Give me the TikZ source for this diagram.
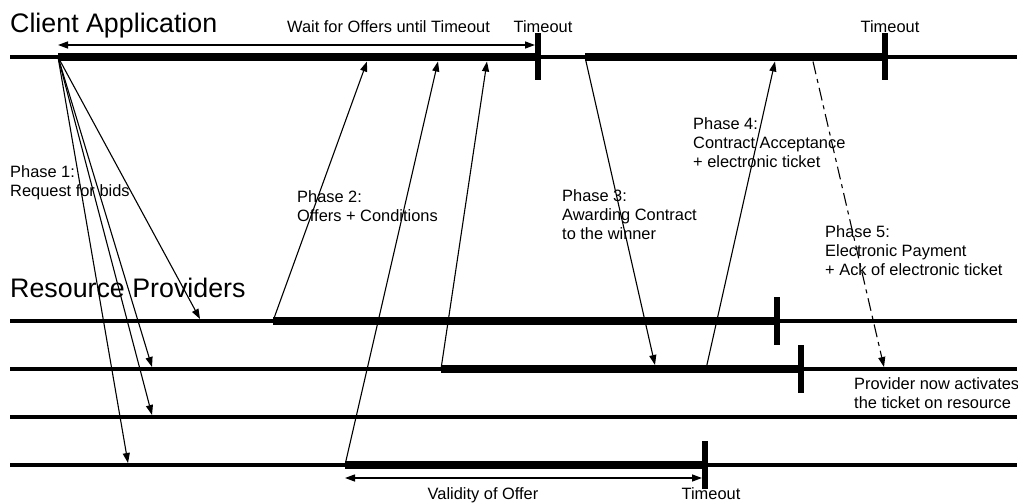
\documentclass[tikz,border=0pt]{standalone}
\usepackage{fontspec}
\setmainfont{Liberation Sans}
\usetikzlibrary{arrows.meta}
\tikzset{
  thinline/.style={line width=4pt},
  thickline/.style={line width=8.5pt},
  tickmark/.style={line width=5.5pt},
  msg/.style={line width=1.1pt,-{Triangle[length=10pt,width=7pt]}},
  msgdash/.style={msg,dash pattern=on 13pt off 5pt on 4pt off 5pt},
  span/.style={line width=1.3pt,{Triangle[length=10pt,width=7pt]}-{Triangle[length=10pt,width=7pt]}},
  small/.style={font={\fontsize{16.4}{19}\selectfont},inner sep=0pt,align=left},
  big/.style={font={\fontsize{26.8}{30}\selectfont},inner sep=0pt}
}
\begin{document}
\begin{tikzpicture}[x=1pt,y=-1pt]
\useasboundingbox (0,0) rectangle (1018,503);
% lifeline coordinates
\coordinate (cL) at (10,57);  \coordinate (cR) at (1017,57);
\coordinate (cA) at (58,57);  \coordinate (cT1) at (538,57);
\coordinate (cB) at (585,57); \coordinate (cT2) at (885,57);
\coordinate (r1L) at (10,321); \coordinate (r1R) at (1017,321);
\coordinate (r2L) at (10,369); \coordinate (r2R) at (1017,369);
\coordinate (r3L) at (10,417); \coordinate (r3R) at (1017,417);
\coordinate (r4L) at (10,465); \coordinate (r4R) at (1017,465);
\coordinate (r1A) at (273,321); \coordinate (r1T) at (777,321);
\coordinate (r2A) at (441,369); \coordinate (r2T) at (801,369);
\coordinate (r4A) at (345,465); \coordinate (r4T) at (705,465);
% lifelines
\draw[thinline] (cL) -- (cR);
\draw[thinline] (r1L) -- (r1R);
\draw[thinline] (r2L) -- (r2R);
\draw[thinline] (r3L) -- (r3R);
\draw[thinline] (r4L) -- (r4R);
\draw[thickline] (cA) -- (cT1);
\draw[thickline] (cB) -- (cT2);
\draw[thickline] (r1A) -- (r1T);
\draw[thickline] (r2A) -- (r2T);
\draw[thickline] (r4A) -- (r4T);
% timeout ticks
\draw[tickmark] ([yshift=23.5pt]cT1) -- ([yshift=-23.5pt]cT1);
\draw[tickmark] ([yshift=23.5pt]cT2) -- ([yshift=-23.5pt]cT2);
\draw[tickmark] ([yshift=24pt]r1T) -- ([yshift=-24pt]r1T);
\draw[tickmark] ([yshift=24pt]r2T) -- ([yshift=-24pt]r2T);
\draw[tickmark] ([yshift=24pt]r4T) -- ([yshift=-24pt]r4T);
% message end points
\coordinate (p1a) at (200,319); \coordinate (p1b) at (152,367);
\coordinate (p1c) at (152,415); \coordinate (p1d) at (128,463);
\coordinate (p2a) at (367,61.5); \coordinate (p2b) at (438,61.5); \coordinate (p2c) at (487,61.5);
\coordinate (p3) at (655,365);
\coordinate (p4s) at (706,369); \coordinate (p4) at (775,61.5);
\coordinate (p5s) at (813,61.5); \coordinate (p5) at (884,367);
% phase 1
\draw[msg] (cA) -- (p1a);
\draw[msg] (cA) -- (p1b);
\draw[msg] (cA) -- (p1c);
\draw[msg] (cA) -- (p1d);
% phase 2
\draw[msg] (r1A) -- (p2a);
\draw[msg] (r4A) -- (p2b);
\draw[msg] (r2A) -- (p2c);
% phase 3
\draw[msg] (cB) -- (p3);
% phase 4
\draw[msg] (p4s) -- (p4);
% phase 5
\draw[msgdash] (p5s) -- (p5);
% spans
\coordinate (wS) at (58,45); \coordinate (wE) at (535,45);
\coordinate (vS) at (345,478); \coordinate (vE) at (702,478);
\draw[span] (wS) -- (wE);
\draw[span] (vS) -- (vE);
% texts
\node[big,anchor=base west] (tClient) at (10,33) {Client Application};
\node[big,anchor=base west] (tRes) at (10,297) {Resource Providers};
\node[small,anchor=base] (tWait) at (388.5,33) {Wait for Offers until Timeout};
\node[small,anchor=base] (tTo1) at (543,33) {Timeout};
\node[small,anchor=base] (tTo2) at (890,33) {Timeout};
\node[small,anchor=base] (tVal) at (483,499) {Validity of Offer};
\node[small,anchor=base] (tTo3) at (711,499) {Timeout};
\node[small,anchor=base west] (tP1) at (10,196) {Phase 1:\\Request for bids};
\node[small,anchor=base west] (tP2) at (297,221) {Phase 2:\\Offers + Conditions};
\node[small,anchor=base west] (tP3) at (562,239) {Phase 3:\\Awarding Contract\\to the winner};
\node[small,anchor=base west] (tP4) at (693,167) {Phase 4:\\Contract Acceptance\\+ electronic ticket};
\node[small,anchor=base west] (tP5) at (825,275) {Phase 5:\\Electronic Payment\\+ Ack of electronic ticket};
\node[small,anchor=base west] (tProv) at (854,408) {Provider now activates\\the ticket on resource};
\end{tikzpicture}
\end{document}
